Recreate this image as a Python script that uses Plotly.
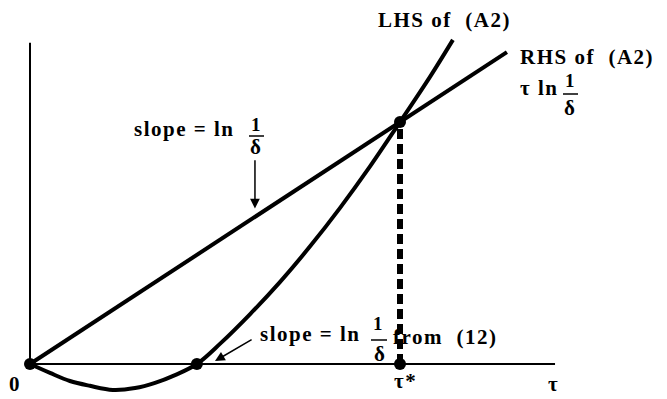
import plotly.graph_objects as go

# LHS of (A2) (tau* = 1)
tau_lhs = [0, 0.054, 0.108, 0.162, 0.224, 0.284, 0.338, 0.392, 0.451, 0.514,
           0.595, 0.676, 0.757, 0.838, 0.919, 1.0, 1.081, 1.143]
lhs = [0, -0.024, -0.046, -0.059, -0.070, -0.065, -0.051, -0.030, 0, 0.055,
       0.135, 0.222, 0.318, 0.422, 0.534, 0.654, 0.776, 0.876]

# RHS of (A2): tau ln(1/delta)
tau_rhs = [0, 1.289]
rhs = [0, 0.843]

# marked points
tau_pts = [0, 0.451, 1.0, 1.0]
y_pts = [0, 0, 0.654, 0]

tau_star = 1.0
y_star = 0.654
x_end = 1.419
y_end = 0.868

# page body has an 8px margin, so the figure is drawn 8px smaller
OFF = 8
W, H = 667 - OFF, 399 - OFF
serif = "Liberation Serif, Times New Roman, serif"
sp = "\u00a0"


def px(x, y):
    return (x - OFF) / W, 1 - (y - OFF) / H


def txt(s, ls=1.5):
    return '<span style="letter-spacing:%spx">%s</span>' % (ls, s)


fig = go.Figure()
fig.add_trace(go.Scatter(x=tau_rhs, y=rhs, mode="lines",
                         line=dict(color="black", width=4)))
fig.add_trace(go.Scatter(x=tau_lhs, y=lhs, mode="lines", line_shape="spline",
                         line=dict(color="black", width=4)))
fig.add_trace(go.Scatter(x=[tau_star, tau_star], y=[0, y_star], mode="lines",
                         line=dict(color="black", width=6, dash="10px,5px")))
fig.add_trace(go.Scatter(x=tau_pts, y=y_pts, mode="markers",
                         marker=dict(color="black", size=12)))

# axes
fig.add_shape(type="line", x0=0, y0=0, x1=x_end, y1=0, line=dict(color="black", width=2))
fig.add_shape(type="line", x0=0, y0=0, x1=0, y1=y_end, line=dict(color="black", width=2))

texts = [
    ("LHS of" + sp * 2 + "(A2)", 376, 20, "left", 21),
    ("RHS of" + sp * 2 + "(A2)", 518, 57, "left", 21),
    ("\u03c4 ln", 518, 88, "left", 21),
    ("1", 570, 80, "center", 19),
    ("\u03b4", 570, 108, "center", 21),
    ("slope = ln", 132, 129, "left", 21),
    ("1", 256, 124, "center", 19),
    ("\u03b4", 256, 147, "center", 21),
    ("slope = ln", 258, 334, "left", 21),
    ("1", 378, 323, "center", 19),
    ("\u03b4", 380, 354, "center", 21),
    ("from" + sp * 2 + "(12)", 391, 337, "left", 21),
    ("0", 15, 384, "center", 21),
    ("\u03c4*", 405, 381, "center", 21),
    ("\u03c4", 553, 384, "center", 21),
]
for t, x, y, anchor, size in texts:
    xp, yp = px(x, y)
    fig.add_annotation(text="<b>" + txt(t) + "</b>", x=xp, y=yp,
                       xref="paper", yref="paper",
                       xanchor=anchor, yanchor="middle", showarrow=False,
                       font=dict(family=serif, size=size, color="black"))

# fraction bars
for x0, x1, y in [(563, 578, 94), (249, 264, 136), (371, 387, 340)]:
    a0, b = px(x0, y)
    a1, _ = px(x1, y)
    fig.add_shape(type="line", xref="paper", yref="paper", x0=a0, y0=b, x1=a1, y1=b,
                  line=dict(color="black", width=1.5))

# arrows
fig.add_annotation(x=0.608, y=0.42, ax=0.608, ay=0.555, xref="x", yref="y",
                   axref="x", ayref="y", showarrow=True, arrowhead=2,
                   arrowsize=1.3, arrowwidth=1.5, arrowcolor="black", text="")
fig.add_annotation(x=0.50, y=0.008, ax=0.603, ay=0.068, xref="x", yref="y",
                   axref="x", ayref="y", showarrow=True, arrowhead=2,
                   arrowsize=1.3, arrowwidth=1.5, arrowcolor="black", text="")

fig.update_layout(
    width=W, height=H,
    margin=dict(l=0, r=0, t=0, b=0),
    plot_bgcolor="white", paper_bgcolor="white",
    showlegend=False,
    xaxis=dict(range=[-(30 - OFF) / 370, (667 - 30) / 370], visible=False),
    yaxis=dict(range=[-(399 - 364) / 370, (364 - OFF) / 370], visible=False),
)
fig.write_html("out.html")
